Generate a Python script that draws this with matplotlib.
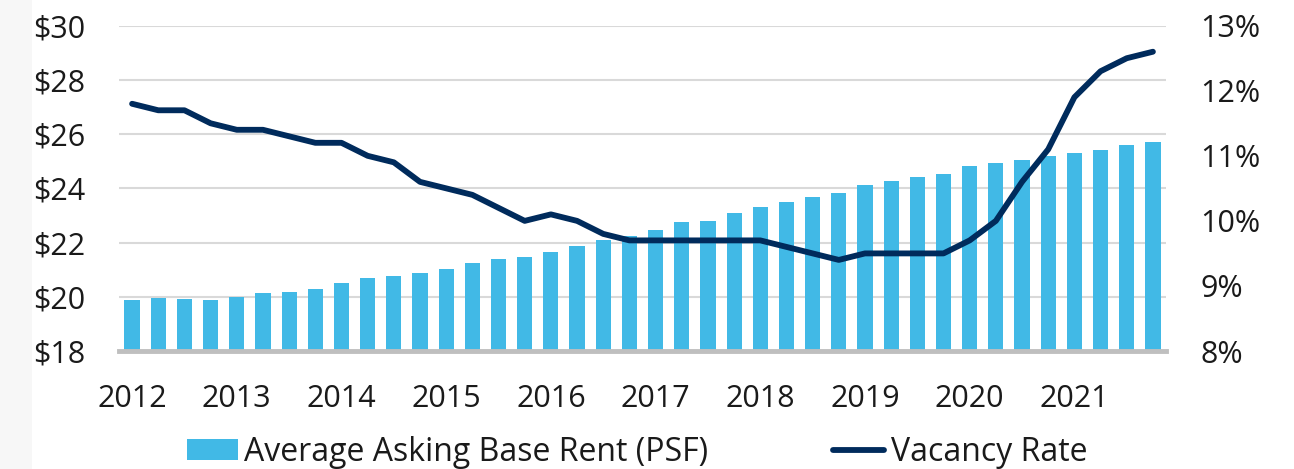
import numpy as np
import matplotlib
matplotlib.use("Agg")
import matplotlib.pyplot as plt
from matplotlib.patches import Rectangle

plt.rcParams['font.family'] = ['Open Sans', 'DejaVu Sans']

# quarterly data, 2012 Q1 .. 2021 Q4
years = [str(y) for y in range(2012, 2022)]
rent = [19.88, 19.96, 19.92, 19.87, 20.00, 20.13, 20.18, 20.29, 20.50, 20.68,
        20.77, 20.88, 21.01, 21.24, 21.38, 21.47, 21.66, 21.87, 22.11, 22.24,
        22.46, 22.75, 22.81, 23.08, 23.31, 23.48, 23.68, 23.82, 24.11, 24.26,
        24.42, 24.53, 24.83, 24.95, 25.06, 25.20, 25.32, 25.42, 25.59, 25.72]
vacancy = [11.8, 11.7, 11.7, 11.5, 11.4, 11.4, 11.3, 11.2, 11.2, 11.0,
           10.9, 10.6, 10.5, 10.4, 10.2, 10.0, 10.1, 10.0, 9.8, 9.7,
           9.7, 9.7, 9.7, 9.7, 9.7, 9.6, 9.5, 9.4, 9.5, 9.5,
           9.5, 9.5, 9.7, 10.0, 10.6, 11.1, 11.9, 12.3, 12.5, 12.6]

bar_color = '#41b9e6'
line_color = '#002b5c'

fig = plt.figure(figsize=(12.94, 4.69), dpi=100)
fig.patches.append(Rectangle((0, 0), 32 / 1294, 1, transform=fig.transFigure,
                             facecolor='#f7f7f7', edgecolor='none', zorder=-10))

ax = fig.add_axes([119 / 1294, 1 - 351 / 469, (1166 - 119) / 1294, (351 - 25.7) / 469])
ax2 = ax.twinx()

x = np.arange(len(rent))
bars = ax.bar(x, np.array(rent) - 18, bottom=18, width=0.58, color=bar_color,
              label='Average Asking Base Rent (PSF)', zorder=2)
line, = ax2.plot(x, vacancy, color=line_color, linewidth=4.2,
                 solid_capstyle='round', solid_joinstyle='round',
                 label='Vacancy Rate')

ax.set_xlim(-0.5, len(rent) - 0.5)
ax.set_ylim(18, 30)
ax.set_yticks(np.arange(18, 31, 2))
ax.set_yticklabels(['$%d' % v for v in range(18, 31, 2)])
ax2.set_ylim(8, 13)
ax2.set_yticks(np.arange(8, 14, 1))
ax2.set_yticklabels(['%d%%' % v for v in range(8, 14)])

ax.set_xticks(x[::4])
ax.set_xticklabels(years)

ax.grid(axis='y', color='#d9d9d9', linewidth=1.5, zorder=0)
ax.set_axisbelow(True)

for a in (ax, ax2):
    for s in ('top', 'left', 'right', 'bottom'):
        a.spines[s].set_visible(False)
    a.tick_params(length=0, labelsize=22, colors='#1a1a1a')
ax.axhline(18, color='#bfbfbf', linewidth=3.5, zorder=3, clip_on=False)
ax.tick_params(axis='y', pad=24.5)
ax.tick_params(axis='x', pad=24)
ax2.tick_params(axis='y', pad=24.5)

leg = fig.legend([bars, line], ['Average Asking Base Rent (PSF)', 'Vacancy Rate'],
                 loc='center left', bbox_to_anchor=(187 / 1294, 1 - 452 / 469),
                 ncol=2, frameon=False, fontsize=23, handlelength=1.6,
                 handleheight=0.65, handletextpad=0.2, columnspacing=3.9,
                 borderaxespad=0, borderpad=0)
for t in leg.get_texts():
    t.set_color('#1a1a1a')

fig.savefig('out.png', dpi=100)
